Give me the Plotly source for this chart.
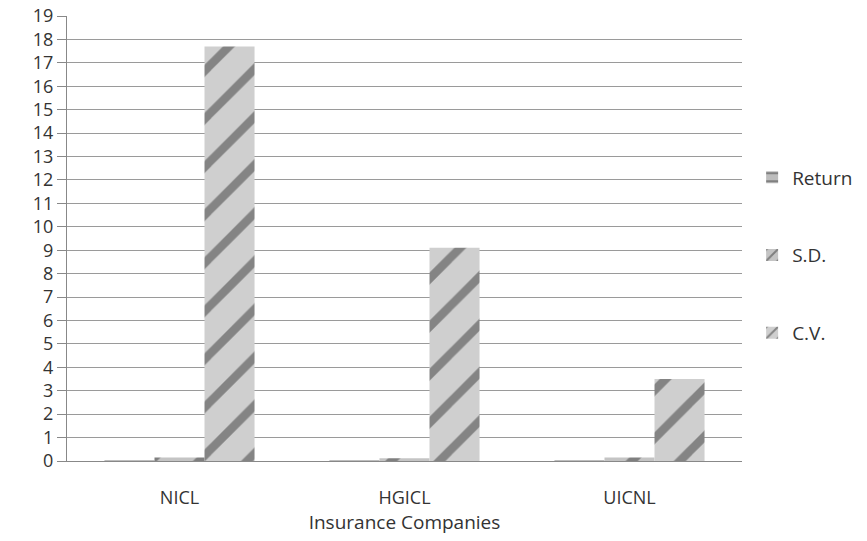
import plotly.graph_objects as go

categories = ["NICL", "HGICL", "UICNL"]
series_names = ["Return", "S.D.", "C.V."]
return_vals = [0.02, 0.01, 0.02]
sd_vals = [0.15, 0.12, 0.15]
cv_vals = [17.7, 9.1, 3.5]
y_ticks = list(range(0, 20))

fig = go.Figure()
styles = [
    dict(shape="-", fg="#444444", bg="#bdbdbd"),
    dict(shape="/", fg="#3a3a3a", bg="#c4c4c4"),
    dict(shape="/", fg="#3a3a3a", bg="#cfcfcf"),
]
for i, (name, vals) in enumerate(zip(series_names, [return_vals, sd_vals, cv_vals])):
    st = styles[i]
    fig.add_trace(go.Bar(
        x=categories, y=vals, name=name, legendgroup=name,
        marker=dict(color=st["bg"], line=dict(width=0),
                    pattern=dict(shape=st["shape"], fgcolor=st["fg"], bgcolor=st["bg"],
                                 size=34, solidity=0.25, fillmode="overlay")),
    ))

fig.update_layout(
    width=867, height=541,
    margin=dict(l=67, r=125, t=16, b=80, autoexpand=False),
    paper_bgcolor="white", plot_bgcolor="white",
    barmode="group", bargap=0.333, bargroupgap=0,
    font=dict(family="Open Sans, Noto Sans, sans-serif", color="#333333", size=19),
    legend=dict(x=1.015, y=0.68, xanchor="left", yanchor="top",
                font=dict(size=19, color="#333333"), tracegroupgap=50,
                itemwidth=30),
    showlegend=True,
)
fig.update_yaxes(range=[0, 19], tickvals=y_ticks, ticktext=[str(v) for v in y_ticks],
                 showgrid=True, gridcolor="#9a9a9a", gridwidth=1,
                 showline=True, linecolor="#888888", linewidth=1,
                 ticks="outside", ticklen=9, tickcolor="#888888",
                 tickfont=dict(size=18), zeroline=False, automargin=False)
fig.update_xaxes(showline=True, linecolor="#888888", linewidth=1,
                 ticks="outside", ticklen=20, tickcolor="rgba(0,0,0,0)",
                 tickfont=dict(size=18), automargin=False,
                 title=dict(text="Insurance Companies", font=dict(size=19), standoff=2))

fig.write_html("out.html")
